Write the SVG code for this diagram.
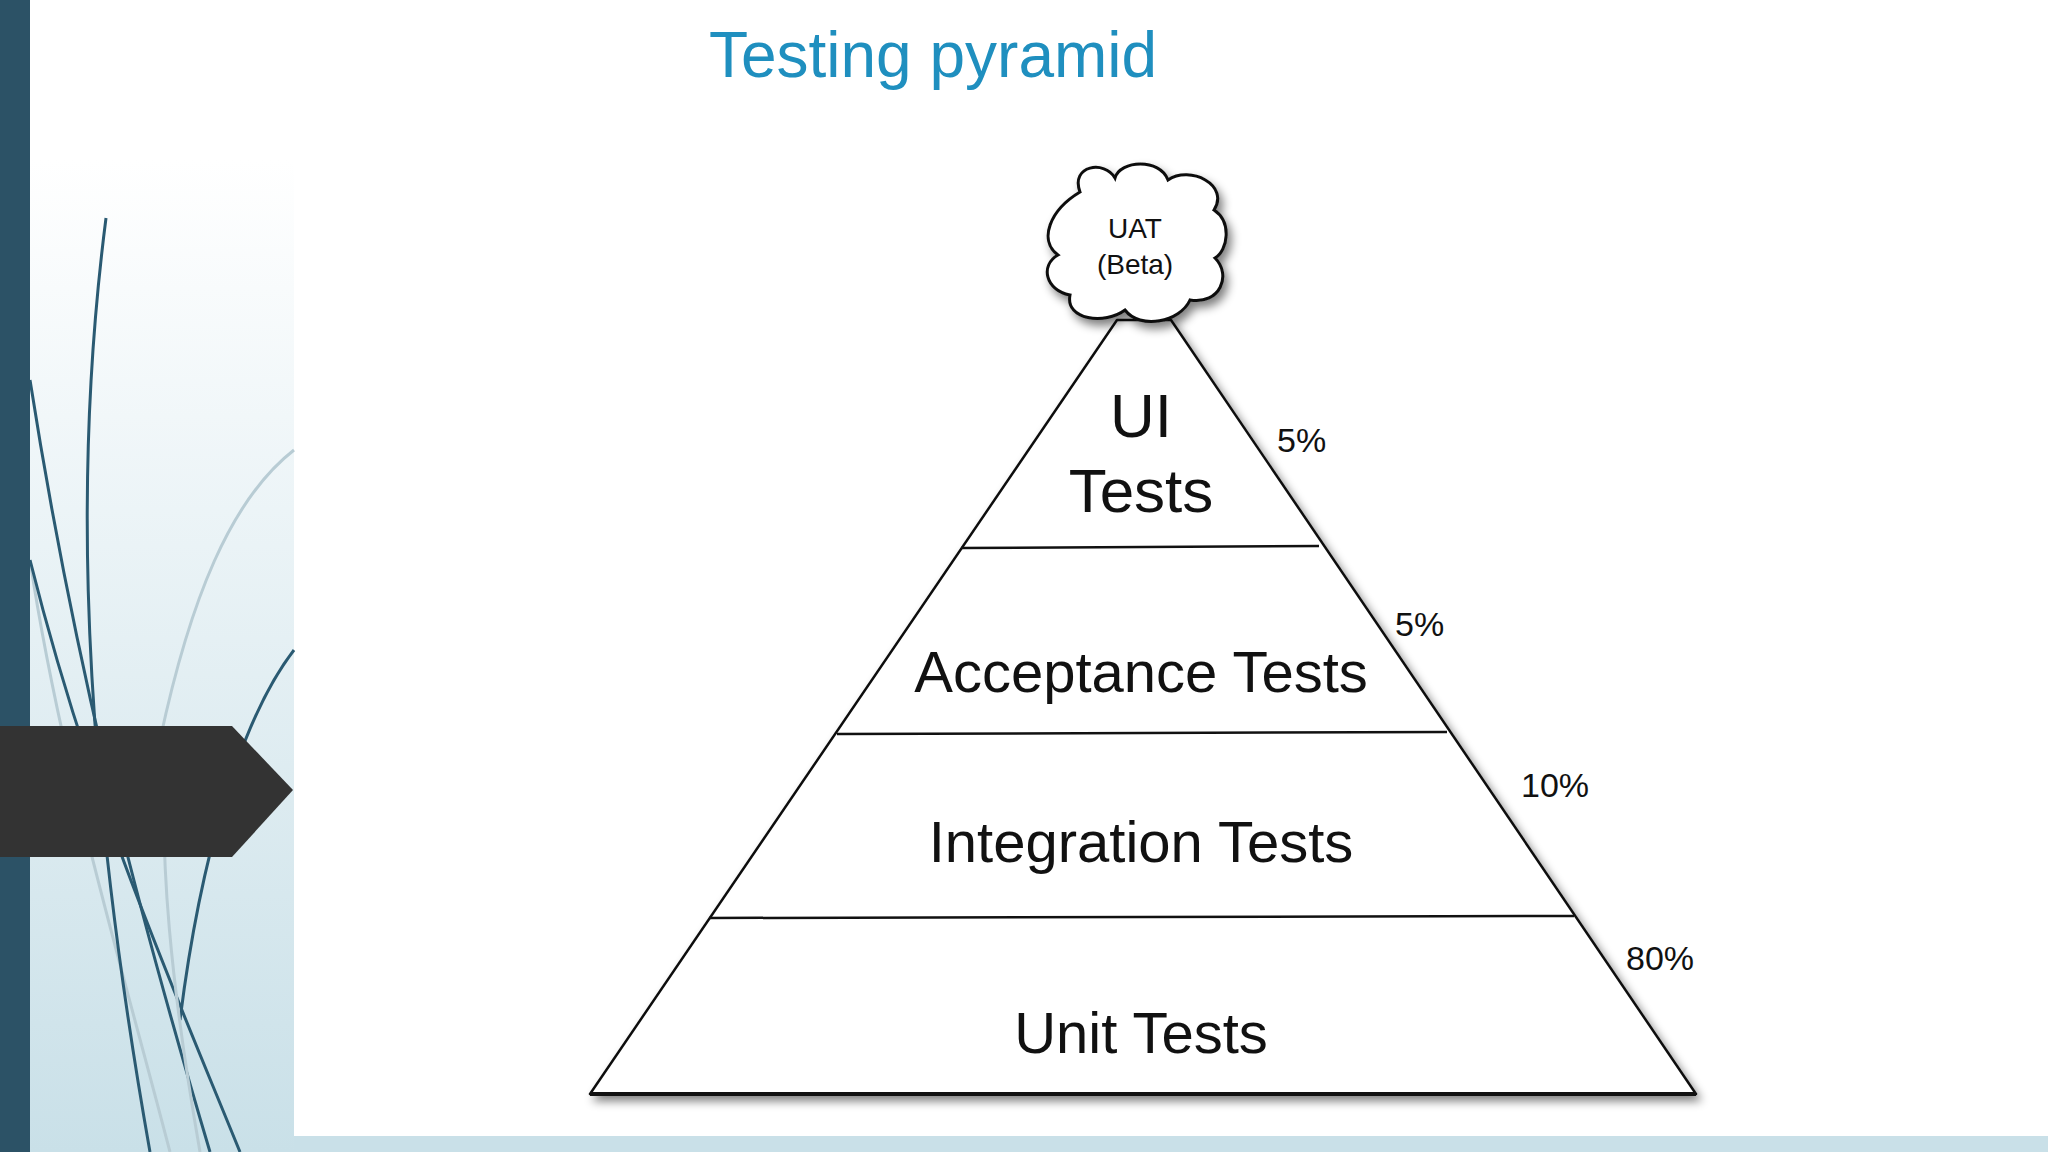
<svg xmlns="http://www.w3.org/2000/svg" width="2048" height="1152" viewBox="0 0 2048 1152">
<defs>
<linearGradient id="pg" x1="0" y1="0" x2="0" y2="1"><stop offset="0" stop-color="#ffffff"/><stop offset="1" stop-color="#c9e0e8"/></linearGradient>
<filter id="sh" x="-20%" y="-20%" width="140%" height="140%"><feGaussianBlur in="SourceAlpha" stdDeviation="5"/><feOffset dx="4" dy="6"/><feComponentTransfer><feFuncA type="linear" slope="0.5"/></feComponentTransfer><feMerge><feMergeNode/><feMergeNode in="SourceGraphic"/></feMerge></filter>
<style>
.t{font-family:"Liberation Sans",Arial,sans-serif;fill:#111;text-anchor:middle}
.ln{stroke:#111;stroke-width:2.5;fill:none}
.deco{fill:none;stroke:#2a5a72;stroke-width:3}
.decol{fill:none;stroke:#b8ccd4;stroke-width:3}
</style>
</defs>
<rect width="2048" height="1152" fill="#ffffff"/>
<rect x="30" y="160" width="264" height="992" fill="url(#pg)"/>
<rect x="294" y="1136" width="1754" height="16" fill="#c9e0e8"/>
<g id="decor">
<path class="decol" d="M30 560 C60 760 120 960 170 1152"/>
<path class="decol" d="M160 740 C190 600 230 500 294 450"/>
<path class="deco" d="M106 218 C80 420 70 700 150 1152"/>
<path class="deco" d="M30 380 C80 700 150 950 210 1152"/>
<path class="deco" d="M30 560 C90 800 170 980 240 1152"/>
<path class="deco" d="M180 1020 C200 860 240 720 294 650"/>
<path class="decol" d="M200 1152 C170 980 160 860 165 760"/>
</g>
<rect x="0" y="0" width="30" height="1152" fill="#2c5266"/>
<path d="M0 726 H232 L293 790 L232 857 H0 Z" fill="#333333"/>
<text x="933" y="77" font-family="'Liberation Sans',Arial,sans-serif" font-size="64" fill="#1f8fbf" text-anchor="middle">Testing pyramid</text>
<g id="pyramid" filter="url(#sh)">
<path d="M1117 320 L590 1094 L1696 1094 L1171 320 Z" fill="#ffffff" stroke="#111" stroke-width="2.5" stroke-linejoin="round"/>
</g>
<g id="connectors">
<line class="ln" x1="961" y1="548" x2="1319" y2="546"/>
<line class="ln" x1="837" y1="734" x2="1447" y2="732"/>
<line class="ln" x1="709" y1="918" x2="1574" y2="916"/>
<line x1="590" y1="1094" x2="1696" y2="1094" stroke="#111" stroke-width="4"/>
</g>
<g id="uat" filter="url(#sh)">
<path d="M1080 192 C1070 165 1105 160 1115 178 C1120 160 1160 158 1168 180 C1190 165 1230 185 1214 210 C1232 222 1228 250 1215 258 C1232 275 1220 305 1190 300 C1180 322 1140 330 1125 310 C1105 325 1065 320 1070 295 C1045 290 1040 265 1058 255 C1038 240 1050 210 1080 192 Z" fill="#ffffff" stroke="#111" stroke-width="3"/>
</g>
<g id="uat-text">
<text class="t" x="1135" y="238" font-size="28">UAT</text>
<text class="t" x="1135" y="274" font-size="28">(Beta)</text>
</g>
<g id="ui"><text class="t" x="1141" y="437" font-size="62">UI</text><text class="t" x="1141" y="512" font-size="62">Tests</text></g>
<g id="acceptance"><text class="t" x="1141" y="692" font-size="58">Acceptance Tests</text></g>
<g id="integration"><text class="t" x="1141" y="862" font-size="58">Integration Tests</text></g>
<g id="unit"><text class="t" x="1141" y="1053" font-size="58">Unit Tests</text></g>
<g id="pct">
<text x="1277" y="452" font-family="'Liberation Sans',Arial,sans-serif" font-size="34" fill="#111">5%</text>
<text x="1395" y="636" font-family="'Liberation Sans',Arial,sans-serif" font-size="34" fill="#111">5%</text>
<text x="1521" y="797" font-family="'Liberation Sans',Arial,sans-serif" font-size="34" fill="#111">10%</text>
<text x="1626" y="970" font-family="'Liberation Sans',Arial,sans-serif" font-size="34" fill="#111">80%</text>
</g>
</svg>
